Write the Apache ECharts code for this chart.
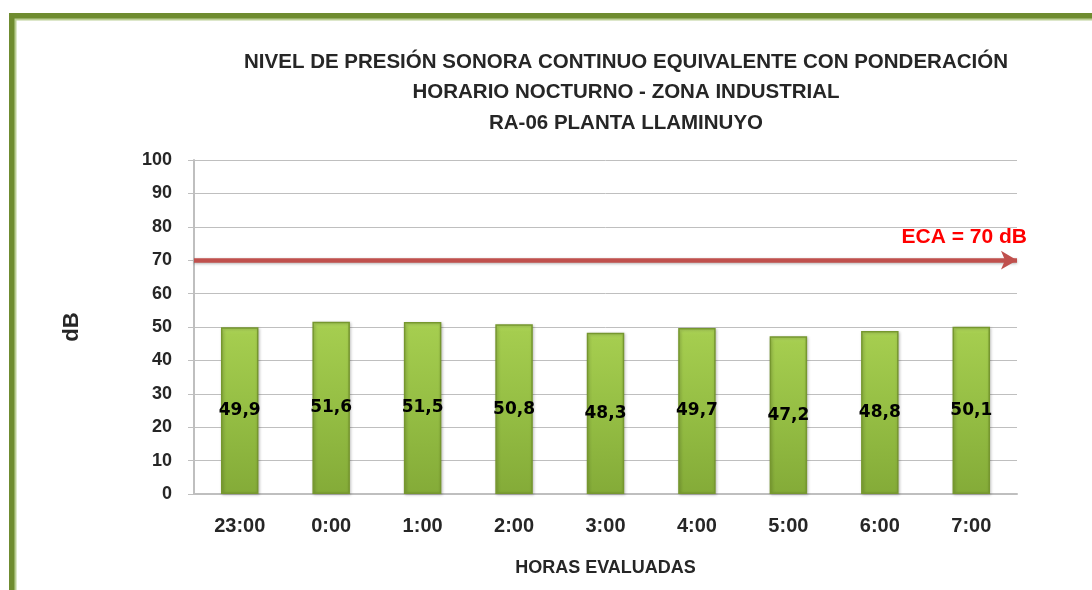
<!DOCTYPE html>
<html><head><meta charset="utf-8">
<script src="https://cdn.jsdelivr.net/npm/echarts@6/dist/echarts.min.js"></script>
<style>html,body{margin:0;padding:0;background:#fff;}#c{width:1092px;height:590px;}</style>
</head><body><div id="c"></div>
<script>
var categories = ['23:00','0:00','1:00','2:00','3:00','4:00','5:00','6:00','7:00'];
var values = [49.9, 51.6, 51.5, 50.8, 48.3, 49.7, 47.2, 48.8, 50.1];
var limitValue = 70;
var limitLabel = 'ECA = 70 dB';
var titleLines = ['NIVEL DE PRESIÓN SONORA CONTINUO EQUIVALENTE CON PONDERACIÓN','HORARIO NOCTURNO - ZONA INDUSTRIAL','RA-06 PLANTA LLAMINUYO'];
var FONT = 'Liberation Sans';
var chart = echarts.init(document.getElementById('c'));
chart.setOption({
  backgroundColor: '#fff',
  animation: false,
  graphic: [
    {type:'rect', shape:{x:12,y:16,width:2000,height:2000}, style:{fill:'none',stroke:'#6f8c30',lineWidth:6}},
    {type:'rect', shape:{x:15.5,y:19.5,width:2000,height:2000}, style:{fill:'none',stroke:'#bccf95',lineWidth:2}}
  ],
  title: {
    text: titleLines.join('\n'),
    left: 621, top: 42, textAlign: 'center',
    textStyle: {fontFamily: FONT, fontWeight: 'bold', fontSize: 20.5, color: '#262626', lineHeight: 30.5}
  },
  grid: {left: 194, right: 75, top: 160, bottom: 96},
  xAxis: {
    type: 'category', data: categories,
    name: 'HORAS EVALUADAS', nameLocation: 'middle', nameGap: 65,
    nameTextStyle: {fontFamily: FONT, fontWeight: 'bold', fontSize: 18, color: '#262626'},
    axisLine: {lineStyle: {color: '#bfbfbf', width: 2}},
    axisTick: {show: false},
    axisLabel: {fontFamily: FONT, fontWeight: 'bold', fontSize: 20, color: '#262626', margin: 22}
  },
  yAxis: {
    type: 'value', min: 0, max: 100, interval: 10,
    name: 'dB', nameLocation: 'middle', nameGap: 111, nameRotate: 90,
    nameTextStyle: {fontFamily: FONT, fontWeight: 'bold', fontSize: 22, color: '#262626'},
    axisLine: {show: true, lineStyle: {color: '#bfbfbf', width: 2}},
    axisTick: {show: true, length: 6, lineStyle: {color: '#bfbfbf'}},
    splitLine: {lineStyle: {color: '#bfbfbf', width: 1}},
    axisLabel: {fontFamily: FONT, fontWeight: 'bold', fontSize: 18, color: '#262626', margin: 22}
  },
  series: [{
    type: 'bar', data: values, barWidth: '41%',
    itemStyle: {
      color: new echarts.graphic.LinearGradient(0,0,0,1,[
        {offset:0,color:'#b3db5e'},{offset:0.04,color:'#a5cd4f'},{offset:0.5,color:'#95be44'},{offset:1,color:'#84ab38'}
      ]),
      borderColor: '#76972f', borderWidth: 1.5,
      shadowColor: 'rgba(0,0,0,0.25)', shadowBlur: 3, shadowOffsetX: 1, shadowOffsetY: 1
    },
    label: {
      show: true, position: 'inside', color: '#000', fontFamily: 'DejaVu Sans', fontWeight: 'bold', fontSize: 17,
      formatter: function(p){ return p.value.toFixed(1).replace('.', ','); }
    },
    markLine: {
      silent: true, symbol: ['none','arrow'], symbolSize: [14, 16],
      lineStyle: {color: '#c0504d', width: 4.5, type: 'solid', shadowColor: 'rgba(0,0,0,0.3)', shadowBlur: 3, shadowOffsetY: 1},
      label: {show: true, position: 'insideEndTop', formatter: limitLabel, color: '#ff0000', fontFamily: FONT, fontWeight: 'bold', fontSize: 21, distance: [ -10, 12 ]},
      data: [{yAxis: limitValue}]
    }
  }]
});
</script></body></html>
